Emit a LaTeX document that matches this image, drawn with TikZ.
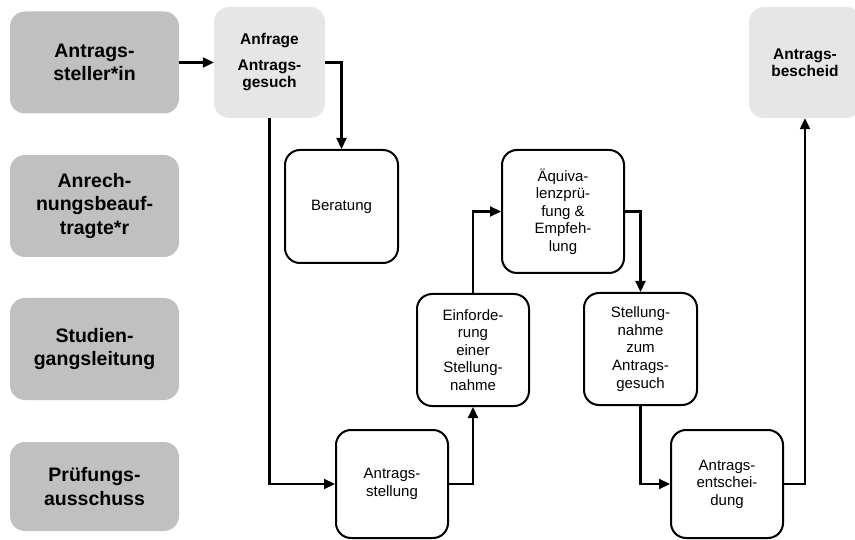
\documentclass[tikz,border=0pt]{standalone}
\usepackage{fontspec}
\setmainfont{Liberation Sans}
\usetikzlibrary{positioning,arrows.meta}
\definecolor{rolegray}{HTML}{C0C0C0}
\definecolor{docgray}{HTML}{E6E6E6}
\tikzset{>={Triangle[length=11pt,width=10pt]}}
\tikzset{
  role/.style={fill=rolegray,rounded corners=15pt,minimum width=169pt,minimum height=102pt,
    align=center,font=\fontsize{19.5}{23.5}\selectfont\bfseries},
  doc/.style={fill=docgray,rounded corners=15pt,minimum width=111pt,minimum height=111pt,
    align=center,font=\fontsize{15.5}{17.5}\selectfont\bfseries},
  task/.style={draw,line width=2pt,rounded corners=15pt,minimum width=112pt,minimum height=112pt,
    align=center,font=\fontsize{15}{17.6}\selectfont},
  conn/.style={draw,line width=2.2pt,->}
}

\begin{document}
\begin{tikzpicture}[x=1pt,y=-1pt]
\useasboundingbox (0,0) rectangle (855,540);
% roles
\node[role] (steller) at (94.5,62.5) {Antrags-\\steller*in};
\node[role] (beauftr) at (94.5,206) {Anrech-\\nungsbeauf-\\tragte*r};
\node[role] (leitung) at (94.5,349) {Studien-\\gangsleitung};
\node[role,minimum height=89pt] (ausschuss) at (94.5,486.5) {Prüfungs-\\ausschuss};
% documents
\node[doc] (anfrage) at (269.5,62.5) {Anfrage\\[8pt]Antrags-\\gesuch};
\node[doc,minimum width=112pt] (bescheid) at (805,62.5) {Antrags-\\bescheid};
% steps
\node[task,minimum width=113pt,minimum height=113pt] (beratung) at (341.5,206.5) {Beratung};
\node[task,minimum width=122pt,minimum height=123pt] (aequi) at (563,211.5) {Äquiva-\\lenzprü-\\fung \&\\Empfeh-\\lung};
\node[task] (einf) at (473,350) {Einforde-\\rung\\einer\\Stellung-\\nahme};
\node[task,minimum width=113pt] (stelln) at (640.5,349) {Stellung-\\nahme\\zum\\Antrags-\\gesuch};
\node[task,minimum height=108pt] (astell) at (392,484) {Antrags-\\stellung};
\node[task,minimum height=108pt] (aentsch) at (727,484) {Antrags-\\entschei-\\dung};
% flow
\draw[conn] (steller.east) -- (anfrage.west);
\draw[conn] (anfrage.east) -| (beratung.north);
\draw[conn] (anfrage.south) |- (astell.west);
\draw[conn] (astell.east) -| (einf.south);
\draw[conn] (einf.north) |- (aequi.west);
\draw[conn] (aequi.east) -| (stelln.north);
\draw[conn] (stelln.south) |- (aentsch.west);
\draw[conn] (aentsch.east) -| (bescheid.south);
\end{tikzpicture}
\end{document}
